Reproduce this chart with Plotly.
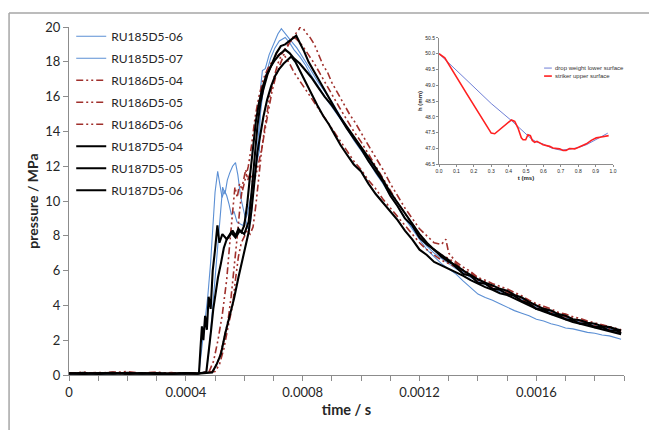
import plotly.graph_objects as go

# ---------------- main chart data (time in microseconds, pressure in MPa) ----------------
BASE_T = [0, 50, 100, 150, 200, 250, 300, 350, 400, 440]
TAIL_T = [1325, 1350, 1375, 1400, 1425, 1450, 1475, 1500, 1525, 1550, 1575, 1600,
          1625, 1650, 1675, 1700, 1725, 1750, 1775, 1800, 1825, 1850, 1875, 1890]

names = ["RU185D5-06", "RU185D5-07", "RU186D5-04", "RU186D5-05", "RU186D5-06",
         "RU187D5-04", "RU187D5-05", "RU187D5-06"]

# RU185D5-06
base_185_06 = [0.06, 0.09, 0.05, 0.08, 0.1, 0.06, 0.08, 0.05, 0.09, 0.1]
t_185_06 = [445, 455, 465, 475, 485, 492, 500, 509, 516, 524, 532, 540, 548, 556, 565, 575,
            595, 610, 625, 640, 652, 656, 662, 672, 685, 700, 715, 727, 740, 760, 780, 800,
            825, 850, 875, 900, 925, 950, 975, 1000, 1025, 1050, 1075, 1100, 1125, 1150,
            1175, 1200, 1225, 1250, 1275, 1300]
p_185_06 = [0.15, 1.5, 3.0, 4.5, 6.5, 8.5, 10.5, 11.7, 11.0, 10.2, 10.6, 10.3, 9.8, 9.2, 9.4, 8.8,
            8.6, 9.2, 10.5, 12.0, 12.9, 16.5, 17.5, 17.6, 18.4, 19.0, 19.6, 19.9, 19.6, 19.2, 18.8, 18.3,
            17.6, 16.9, 16.3, 15.7, 15.0, 14.3, 13.7, 13.1, 12.4, 11.8, 11.1, 10.4, 9.7, 9.0,
            8.4, 7.8, 7.2, 6.8, 6.4, 6.1]
tail_185_06 = [5.8, 5.4, 5.0, 4.65, 4.45, 4.3, 4.1, 3.9, 3.7, 3.55, 3.4, 3.2,
               3.1, 2.95, 2.85, 2.7, 2.65, 2.55, 2.45, 2.4, 2.3, 2.25, 2.15, 2.05]

# RU185D5-07
base_185_07 = [0.08, 0.05, 0.09, 0.06, 0.07, 0.1, 0.05, 0.08, 0.06, 0.09]
t_185_07 = [470, 480, 490, 500, 510, 518, 526, 534, 542, 550, 560, 570, 578, 588, 600, 612,
            622, 632, 642, 652, 662, 675, 690, 705, 720, 740, 755, 770, 790, 810, 830, 850,
            875, 900, 925, 950, 975, 1000, 1025, 1050, 1075, 1100, 1125, 1150, 1175, 1200,
            1225, 1250, 1275, 1300]
p_185_07 = [0.2, 1.5, 3.5, 5.5, 7.5, 9.5, 10.8, 10.4, 11.2, 11.6, 12.0, 12.2, 11.5, 10.2, 9.2, 8.4,
            8.8, 10.5, 12.5, 14.5, 16.0, 17.3, 18.2, 18.8, 19.2, 19.4, 19.1, 18.7, 18.3, 17.8, 17.2, 16.7,
            16.0, 15.4, 14.8, 14.2, 13.5, 12.9, 12.3, 11.6, 11.0, 10.3, 9.7, 9.0, 8.5, 7.9,
            7.4, 7.0, 6.7, 6.4]
tail_185_07 = [6.1, 5.9, 5.6, 5.4, 5.2, 5.0, 4.8, 4.7, 4.5, 4.35, 4.1, 3.9,
               3.7, 3.6, 3.45, 3.3, 3.15, 3.05, 2.9, 2.85, 2.7, 2.65, 2.5, 2.45]

# RU186D5-04
base_186_04 = [0.1, 0.16, 0.08, 0.14, 0.2, 0.1, 0.15, 0.09, 0.13, 0.1]
t_186_04 = [490, 500, 515, 530, 545, 555, 565, 575, 585, 595, 605, 612, 620, 630, 640, 650,
            660, 670, 680, 695, 710, 725, 740, 755, 770, 785, 795, 810, 825, 840, 855, 870,
            885, 900, 920, 940, 960, 980, 1000, 1025, 1050, 1075, 1100, 1125, 1150, 1175,
            1200, 1225, 1250, 1275, 1290, 1300]
p_186_04 = [0.2, 0.4, 1.0, 2.0, 3.2, 4.5, 6.0, 7.8, 9.6, 11.0, 11.8, 11.2, 11.6, 11.0, 11.5, 12.2,
            13.0, 14.0, 15.0, 16.3, 17.3, 18.0, 18.6, 19.1, 19.5, 19.8, 20.1, 19.7, 19.4, 19.0, 18.4, 17.8,
            17.4, 16.8, 16.2, 15.6, 15.0, 14.5, 13.9, 13.2, 12.5, 11.8, 11.0, 10.3, 9.6, 9.0,
            8.4, 8.0, 7.6, 7.5, 7.8, 7.0]
tail_186_04 = [6.5, 6.2, 5.95, 5.6, 5.45, 5.25, 5.1, 4.95, 4.75, 4.55, 4.3, 4.1,
               3.95, 3.8, 3.6, 3.5, 3.35, 3.25, 3.1, 3.0, 2.9, 2.8, 2.7, 2.6]

# RU186D5-05
base_186_05 = [0.12, 0.08, 0.15, 0.1, 0.06, 0.13, 0.09, 0.14, 0.07, 0.11]
t_186_05 = [500, 515, 530, 545, 560, 570, 580, 590, 600, 610, 620, 630, 640, 650, 660, 670,
            685, 700, 715, 730, 745, 760, 772, 785, 800, 820, 840, 860, 880, 900, 925, 950,
            975, 1000, 1025, 1050, 1075, 1100, 1125, 1150, 1175, 1200, 1225, 1250, 1275, 1300]
p_186_05 = [0.2, 0.6, 1.5, 2.8, 4.0, 5.5, 6.8, 7.6, 8.0, 8.3, 8.1, 8.5, 9.8, 11.5, 13.0, 14.2,
            15.8, 17.0, 17.9, 18.5, 18.9, 19.2, 19.4, 19.2, 18.9, 18.4, 17.9, 17.3, 16.7, 16.1, 15.4, 14.7,
            14.0, 13.4, 12.7, 12.0, 11.3, 10.6, 9.9, 9.3, 8.7, 8.1, 7.6, 7.2, 6.9, 6.7]
tail_186_05 = [6.4, 6.05, 5.85, 5.55, 5.35, 5.1, 5.0, 4.8, 4.65, 4.45, 4.2, 4.05,
               3.85, 3.7, 3.55, 3.4, 3.25, 3.15, 3.05, 2.9, 2.85, 2.75, 2.65, 2.55]

# RU186D5-06
base_186_06 = [0.09, 0.14, 0.1, 0.17, 0.08, 0.12, 0.16, 0.1, 0.12, 0.08]
t_186_06 = [480, 495, 510, 525, 540, 550, 560, 568, 576, 584, 594, 604, 614, 625, 637, 650,
            665, 680, 695, 710, 725, 740, 755, 770, 790, 810, 830, 850, 875, 900, 925, 950,
            975, 1000, 1025, 1050, 1075, 1100, 1125, 1150, 1175, 1200, 1225, 1250, 1275, 1300]
p_186_06 = [0.2, 0.8, 2.0, 3.5, 5.5, 7.5, 9.5, 10.8, 10.2, 11.0, 10.6, 11.3, 12.0, 13.2, 14.8, 16.0,
            17.0, 17.6, 18.0, 18.3, 18.5, 18.3, 17.9, 17.4, 16.9, 16.4, 15.9, 15.4, 14.8, 14.2, 13.6, 12.9,
            12.3, 11.8, 11.2, 10.7, 10.1, 9.6, 9.1, 8.6, 8.1, 7.6, 7.2, 6.9, 6.6, 6.4]
tail_186_06 = [6.2, 5.95, 5.7, 5.45, 5.25, 5.05, 4.9, 4.75, 4.55, 4.35, 4.15, 3.95,
               3.8, 3.6, 3.5, 3.35, 3.2, 3.1, 3.0, 2.85, 2.8, 2.65, 2.6, 2.5]

# RU187D5-04
base_187_04 = [0.08, 0.12, 0.06, 0.1, 0.07, 0.11, 0.06, 0.09, 0.1, 0.08]
t_187_04 = [445, 450, 455, 460, 466, 472, 478, 485, 492, 500, 508, 515, 525, 540, 555, 570,
            585, 600, 615, 625, 635, 645, 655, 665, 680, 695, 710, 725, 740, 755, 770, 778,
            790, 805, 820, 840, 860, 880, 900, 925, 950, 975, 1000, 1025, 1050, 1075, 1100,
            1125, 1150, 1175, 1200, 1225, 1250, 1275, 1300]
p_187_04 = [0.1, 1.5, 2.8, 2.0, 3.4, 2.6, 4.5, 3.8, 6.0, 7.2, 8.6, 7.6, 8.1, 7.8, 8.2, 7.9,
            8.3, 8.1, 8.8, 10.5, 12.5, 14.3, 15.6, 16.4, 17.3, 17.9, 18.5, 18.9, 19.0, 19.2, 19.4, 19.5,
            19.1, 18.6, 18.0, 17.4, 16.8, 16.2, 15.6, 14.9, 14.2, 13.6, 13.0, 12.3, 11.7, 11.1, 10.3,
            9.7, 9.0, 8.6, 7.9, 7.5, 7.2, 6.9, 6.6]
tail_187_04 = [6.2, 5.8, 5.7, 5.3, 5.25, 4.95, 4.9, 4.65, 4.55, 4.25, 4.1, 3.8,
               3.75, 3.5, 3.45, 3.2, 3.15, 2.95, 2.95, 2.75, 2.75, 2.55, 2.55, 2.4]

# RU187D5-05
base_187_05 = [0.1, 0.07, 0.11, 0.08, 0.12, 0.07, 0.1, 0.08, 0.11, 0.09]
t_187_05 = [470, 478, 486, 494, 502, 510, 520, 530, 540, 550, 560, 570, 580, 590, 600, 610,
            620, 630, 640, 650, 662, 675, 690, 705, 720, 740, 755, 770, 790, 810, 830, 850,
            875, 900, 925, 950, 975, 1000, 1025, 1050, 1075, 1100, 1125, 1150, 1175, 1200,
            1225, 1250, 1275, 1300]
p_187_05 = [0.15, 1.2, 2.5, 3.8, 4.8, 5.6, 6.4, 7.3, 7.8, 8.0, 8.3, 8.0, 8.4, 8.2, 8.6, 9.8,
            11.5, 13.2, 14.6, 15.6, 16.5, 17.2, 17.7, 18.1, 18.4, 18.7, 18.5, 18.2, 17.9, 17.5, 17.1, 16.6,
            16.0, 15.5, 14.9, 14.3, 13.7, 13.1, 12.5, 11.9, 11.2, 10.5, 9.9, 9.3, 8.7, 8.1,
            7.6, 7.2, 6.8, 6.5]
tail_187_05 = [6.3, 6.0, 5.75, 5.5, 5.3, 5.15, 4.95, 4.85, 4.6, 4.45, 4.2, 4.0,
               3.8, 3.7, 3.5, 3.4, 3.2, 3.15, 3.0, 2.95, 2.8, 2.75, 2.6, 2.55]

# RU187D5-06
base_187_06 = [0.09, 0.06, 0.1, 0.12, 0.07, 0.09, 0.11, 0.06, 0.1, 0.08]
t_187_06 = [490, 505, 520, 535, 550, 565, 580, 595, 605, 615, 625, 635, 645, 655, 665, 678,
            692, 706, 720, 735, 750, 761, 775, 790, 810, 830, 850, 870, 890, 910, 930, 950,
            975, 1000, 1025, 1050, 1075, 1100, 1125, 1150, 1175, 1200, 1225, 1250, 1275, 1300]
p_187_06 = [0.15, 0.6, 1.2, 2.4, 3.4, 4.4, 5.6, 6.8, 7.6, 8.2, 9.5, 11.2, 12.8, 13.8, 14.8, 15.8,
            16.6, 17.2, 17.6, 17.9, 18.1, 18.3, 18.0, 17.5, 16.8, 16.1, 15.5, 14.9, 14.4, 13.8, 13.2, 12.7,
            12.1, 11.7, 11.0, 10.4, 9.9, 9.4, 8.9, 8.3, 7.8, 7.2, 6.9, 6.5, 6.3, 6.1]
tail_187_06 = [5.9, 5.7, 5.45, 5.25, 5.05, 4.9, 4.7, 4.6, 4.4, 4.2, 4.0, 3.8,
               3.65, 3.5, 3.35, 3.2, 3.05, 2.95, 2.85, 2.75, 2.65, 2.55, 2.45, 2.35]

series_t = [t_185_06, t_185_07, t_186_04, t_186_05, t_186_06, t_187_04, t_187_05, t_187_06]
series_p = [p_185_06, p_185_07, p_186_04, p_186_05, p_186_06, p_187_04, p_187_05, p_187_06]
series_base = [base_185_06, base_185_07, base_186_04, base_186_05, base_186_06,
               base_187_04, base_187_05, base_187_06]
series_tail = [tail_185_06, tail_185_07, tail_186_04, tail_186_05, tail_186_06,
               tail_187_04, tail_187_05, tail_187_06]

# ---------------- inset data (t in ms, h in mm) ----------------
inset_t_drop = [0, 0.1, 0.2, 0.3, 0.42, 0.46, 0.5, 0.53, 0.56, 0.6, 0.65, 0.7, 0.75, 0.8,
                0.85, 0.9, 0.94, 0.97]
inset_h_drop = [50.0, 49.48, 48.96, 48.42, 47.86, 47.65, 47.43, 47.3, 47.2, 47.13, 47.0, 46.94,
                46.97, 47.02, 47.12, 47.27, 47.38, 47.48]
inset_t_striker = [0, 0.033, 0.157, 0.253, 0.30, 0.32, 0.35, 0.416, 0.435, 0.454, 0.473, 0.483,
                   0.498, 0.511, 0.525, 0.536, 0.55, 0.563, 0.579, 0.598, 0.636, 0.655, 0.693,
                   0.713, 0.73, 0.75, 0.78, 0.818, 0.847, 0.875, 0.904, 0.933, 0.962, 0.975]
inset_h_striker = [50.0, 49.87, 48.75, 47.9, 47.48, 47.46, 47.59, 47.9, 47.85, 47.64, 47.33, 47.27,
                   47.27, 47.43, 47.40, 47.25, 47.19, 47.22, 47.17, 47.11, 47.06, 47.01, 46.98,
                   46.93, 46.93, 46.99, 46.98, 47.08, 47.14, 47.25, 47.33, 47.36, 47.39, 47.40]

# ---------------- styles ----------------
BLUE = "#5b8fd4"
RED = "#a0302c"
styles = [
    dict(color=BLUE, width=1.1, dash="solid"),
    dict(color=BLUE, width=1.1, dash="solid"),
    dict(color=RED, width=1.6, dash="7px,3px,2px,3px,2px,3px"),
    dict(color=RED, width=1.6, dash="7px,3px,2px,3px,2px,3px"),
    dict(color=RED, width=1.6, dash="7px,3px,2px,3px,2px,3px"),
    dict(color="#000000", width=2.1, dash="solid"),
    dict(color="#000000", width=2.1, dash="solid"),
    dict(color="#000000", width=2.1, dash="solid"),
]

fig = go.Figure()
for i, name in enumerate(names):
    t_all = BASE_T + series_t[i] + TAIL_T
    p_all = series_base[i] + series_p[i] + series_tail[i]
    fig.add_trace(go.Scatter(
        x=[v * 1e-6 for v in t_all], y=p_all, mode="lines", name=name,
        line=styles[i], legendgroup=name, legend="legend",
        xaxis="x", yaxis="y",
    ))

fig.add_trace(go.Scatter(x=inset_t_drop, y=inset_h_drop, mode="lines",
                         name="drop weight lower surface",
                         line=dict(color="#6f7fd6", width=1), showlegend=False,
                         xaxis="x2", yaxis="y2"))
fig.add_trace(go.Scatter(x=inset_t_striker, y=inset_h_striker, mode="lines",
                         name="striker upper surface",
                         line=dict(color="#ff2020", width=1.6), showlegend=False,
                         xaxis="x2", yaxis="y2"))

AX = "#8c8c8c"
FONT = "Lato, 'Open Sans', sans-serif"
fig.update_layout(
    width=649, height=430,
    margin=dict(l=69, r=25, t=27, b=55),
    paper_bgcolor="white", plot_bgcolor="white",
    font=dict(family=FONT, size=13, color="#262626"),
    xaxis=dict(domain=[0, 1], range=[0, 0.0019], tickmode="linear", tick0=0, dtick=0.0004,
               exponentformat="none", showgrid=False, zeroline=False,
               showline=True, linecolor=AX, linewidth=1,
               ticks="outside", ticklen=5, tickcolor=AX,
               minor=dict(dtick=0.0001, ticks="outside", ticklen=5, tickcolor=AX, showgrid=False),
               tickfont=dict(size=13),
               title=dict(text="time / s", font=dict(size=14.5, weight="bold"), standoff=6)),
    yaxis=dict(domain=[0, 1], range=[0, 20], dtick=2, showgrid=False, zeroline=False,
               showline=True, linecolor=AX, linewidth=1,
               ticks="outside", ticklen=5, tickcolor=AX, tickfont=dict(size=13),
               title=dict(text="pressure / MPa", font=dict(size=14, weight="bold"), standoff=3)),
    xaxis2=dict(domain=[0.6667, 0.9802], anchor="y2", range=[0, 1.0], dtick=0.1,
                tickformat=".1f", showgrid=False, zeroline=False,
                showline=True, linecolor=AX, linewidth=1, ticks="outside", ticklen=2,
                tickcolor=AX, tickfont=dict(size=5, family="Liberation Sans"),
                title=dict(text="t (ms)", font=dict(size=6, family="Liberation Sans", weight="bold"),
                           standoff=2)),
    yaxis2=dict(domain=[0.6063, 0.9684], anchor="x2", range=[46.5, 50.5], dtick=0.5,
                tickformat=".1f", showgrid=False, zeroline=False,
                showline=True, linecolor=AX, linewidth=1, ticks="outside", ticklen=2,
                tickcolor=AX, tickfont=dict(size=5, family="Liberation Sans"),
                title=dict(text="h (mm)", font=dict(size=6, family="Liberation Sans", weight="bold"),
                           standoff=2)),
    legend=dict(x=0.004, y=1.015, xanchor="left", yanchor="top", bgcolor="rgba(0,0,0,0)",
                font=dict(size=12, family=FONT, color="#262626"), tracegroupgap=3,
                traceorder="grouped"),
    showlegend=True,
)

# outer frame (top and left edges visible in the original)
fig.add_shape(type="line", xref="paper", yref="paper", x0=-0.108, x1=1.1, y0=1.0402, y1=1.0402,
              line=dict(color="#a6a6a6", width=1.5))
fig.add_shape(type="line", xref="paper", yref="paper", x0=-0.108, x1=-0.108, y0=1.0402, y1=-0.2,
              line=dict(color="#a6a6a6", width=1.5))

# inset legend
fig.add_shape(type="line", xref="paper", yref="paper", x0=0.856, x1=0.870, y0=0.882, y1=0.882,
              line=dict(color="#6f7fd6", width=1))
fig.add_shape(type="line", xref="paper", yref="paper", x0=0.856, x1=0.870, y0=0.859, y1=0.859,
              line=dict(color="#ff2020", width=1.6))
fig.add_annotation(xref="paper", yref="paper", x=0.872, y=0.882, xanchor="left", yanchor="middle",
                   text="drop weight lower surface", showarrow=False,
                   font=dict(size=6, family="Liberation Sans", color="#333333"))
fig.add_annotation(xref="paper", yref="paper", x=0.872, y=0.859, xanchor="left", yanchor="middle",
                   text="striker upper surface", showarrow=False,
                   font=dict(size=6, family="Liberation Sans", color="#333333"))

fig.write_html("out.html", config={"displayModeBar": False},
               post_script="document.body.style.margin='0px';")
